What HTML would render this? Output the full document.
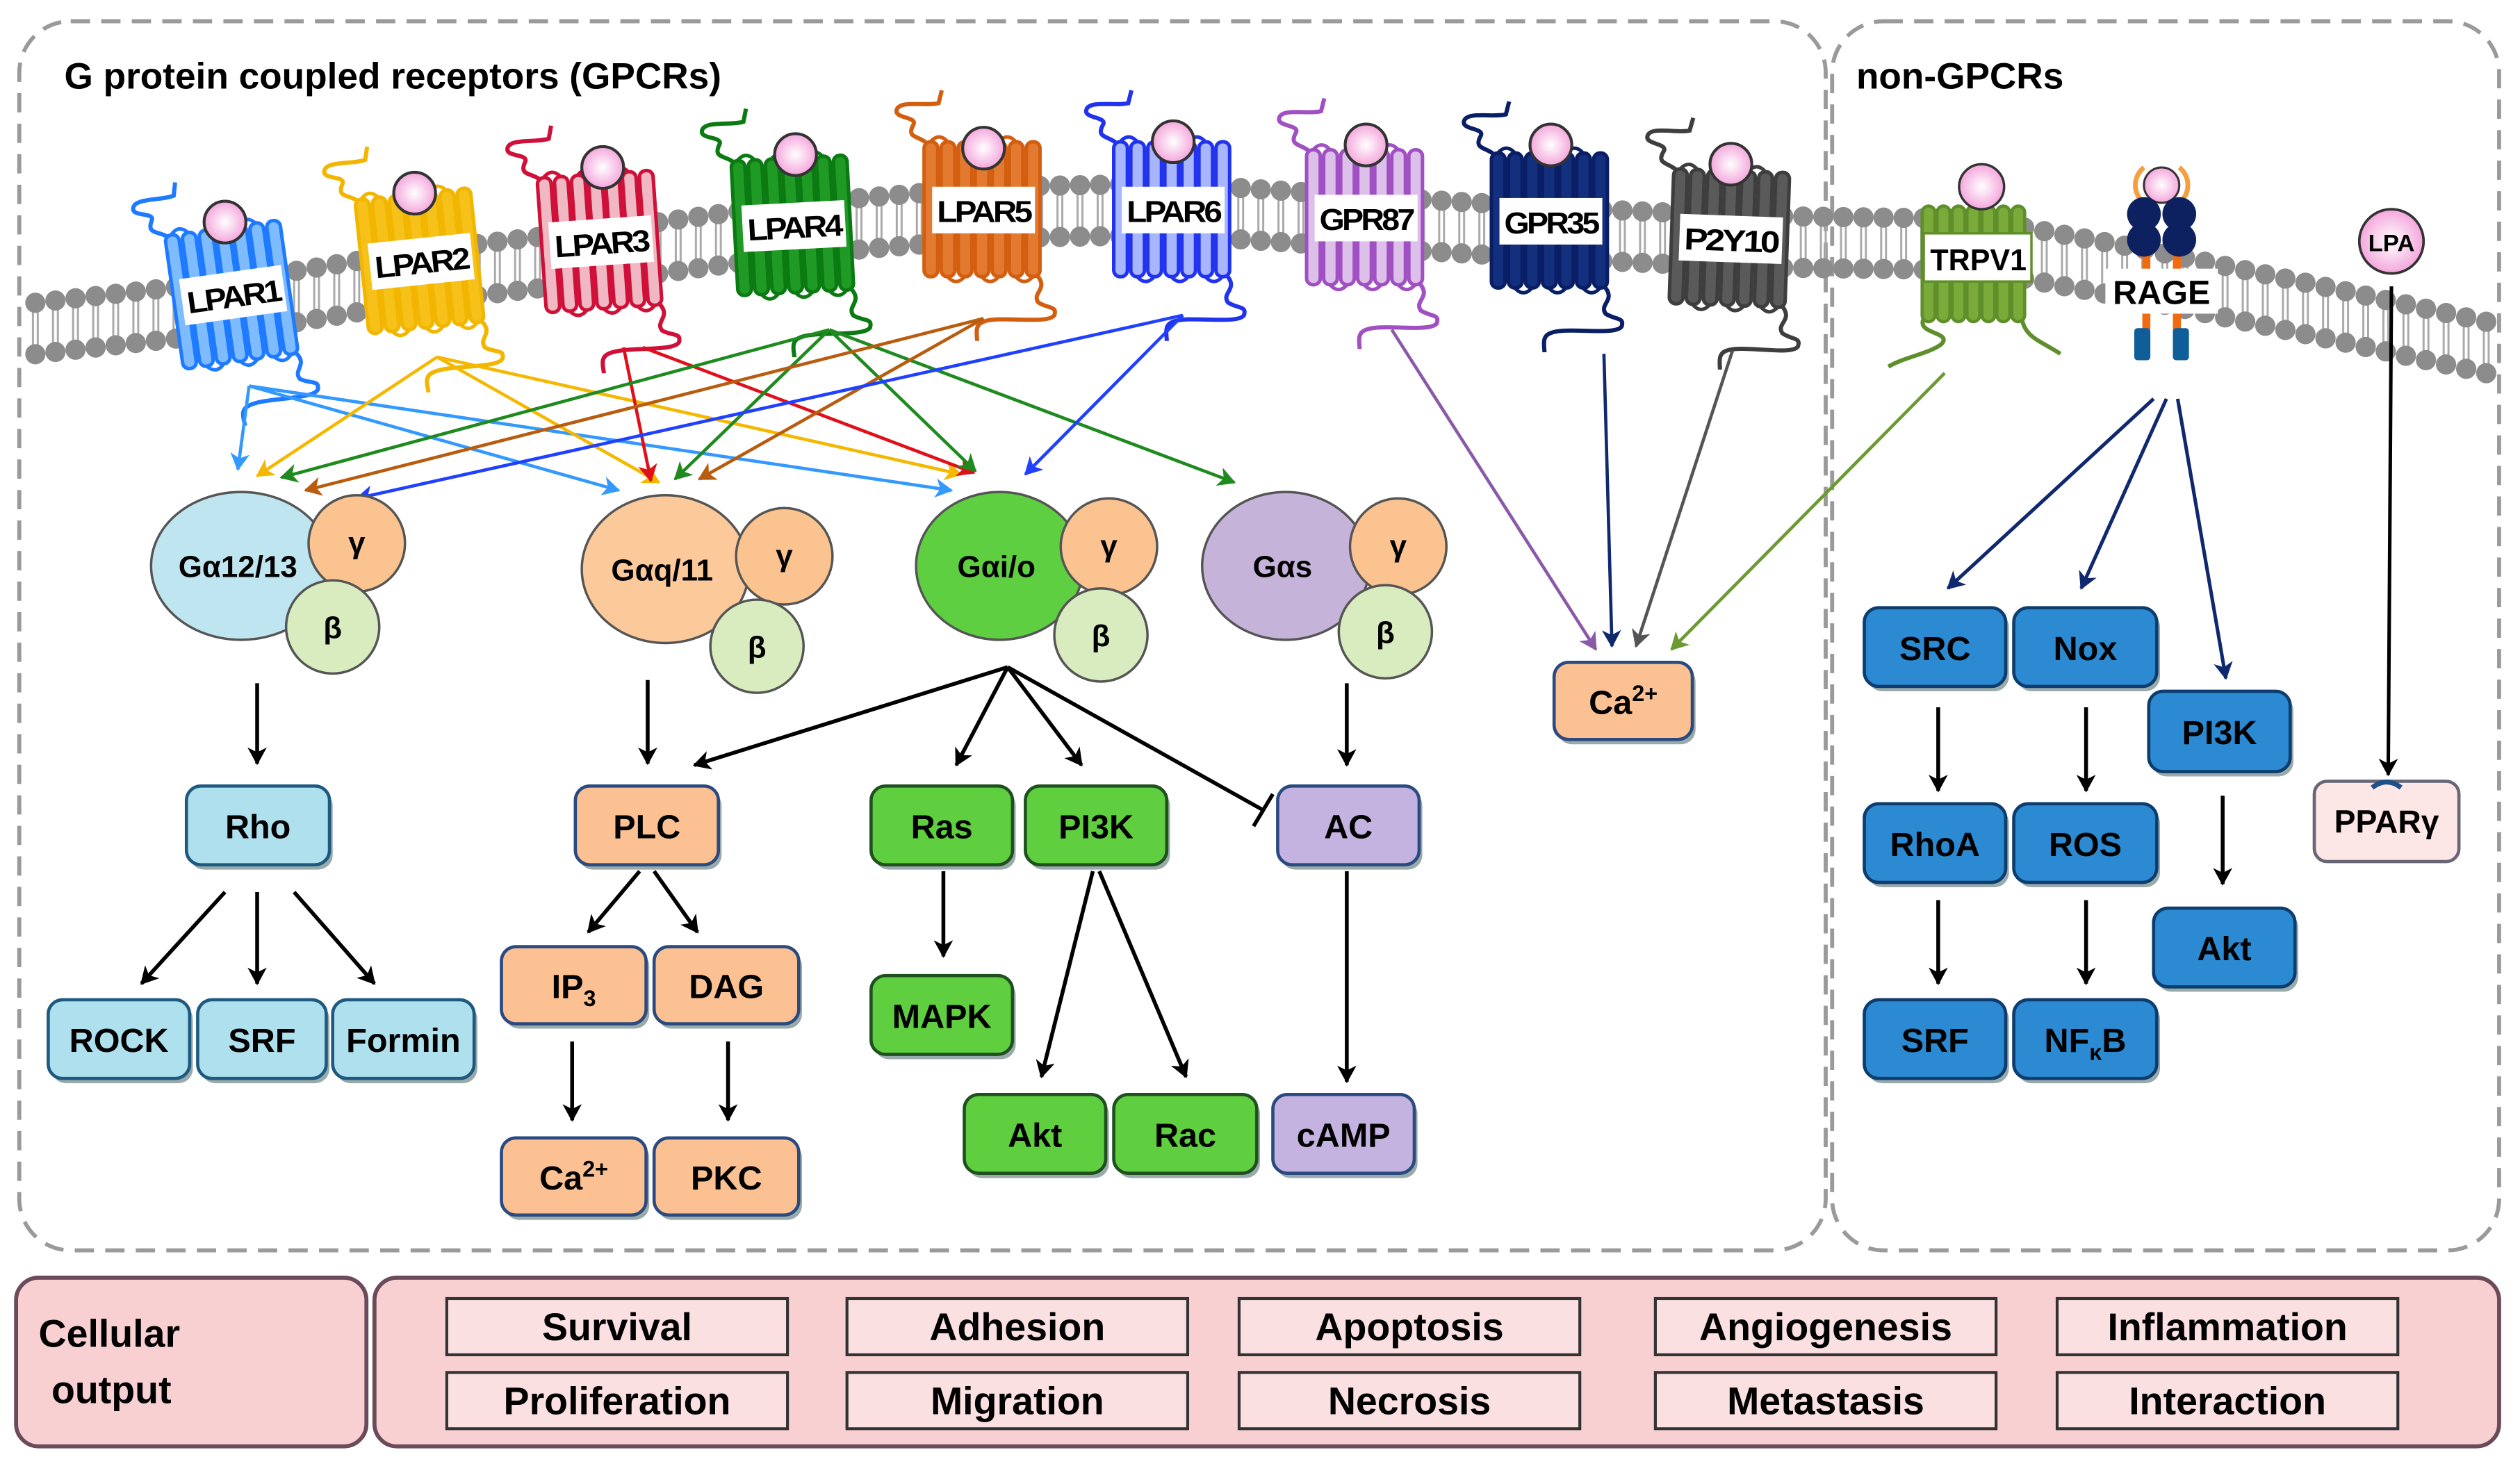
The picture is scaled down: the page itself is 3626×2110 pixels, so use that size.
<!DOCTYPE html>
<html><head><meta charset="utf-8"><style>
html,body{margin:0;padding:0;background:#fff;}
svg{display:block;}
text{font-family:"Liberation Sans",Arial,sans-serif;font-weight:bold;}
</style></head><body>
<svg id="s" width="3626" height="2110" viewBox="0 0 1568 912" xmlns="http://www.w3.org/2000/svg">
<defs>
<marker id="ak" markerWidth="8" markerHeight="8" refX="7" refY="4" orient="auto" markerUnits="userSpaceOnUse"><path d="M0,0 L8,4 L0,8 L2,4z" fill="#000"/></marker>
<radialGradient id="lig" cx="50%" cy="50%" r="50%"><stop offset="0" stop-color="#fff"/><stop offset="1" stop-color="#f4a6dc"/></radialGradient>
</defs>
<rect x="0" y="0" width="1568" height="912" fill="#fff"/>
<rect x="12" y="13" width="1124" height="765" rx="32" fill="none" stroke="#9a9a9a" stroke-width="2.5" stroke-dasharray="12,7"/>
<rect x="1140" y="13" width="415" height="765" rx="32" fill="none" stroke="#9a9a9a" stroke-width="2.5" stroke-dasharray="12,7"/>
<text x="40" y="55" font-size="23">G protein coupled receptors (GPCRs)</text>
<text x="1155" y="55" font-size="23">non-GPCRs</text>
<g id="mem"></g>
<g id="rec"></g>
<g id="arr"></g>
<g id="gp"></g>
<g id="box"></g>
<g id="bot">
<rect x="10" y="795" width="218" height="105" rx="14" fill="#f8d0d2" stroke="#6b4a5a" stroke-width="2.5"/>
<text x="24" y="838" font-size="24">Cellular</text>
<text x="32" y="873" font-size="24">output</text>
<rect x="233" y="795" width="1322" height="105" rx="14" fill="#f8d0d2" stroke="#6b4a5a" stroke-width="2.5"/>
</g>
</svg>
<script>
var NS="http://www.w3.org/2000/svg";
function el(p,t,a,txt){var e=document.createElementNS(NS,t);for(var k in a)e.setAttribute(k,a[k]);if(txt!==undefined)e.textContent=txt;document.getElementById(p).appendChild(e);return e;}
// membrane
var P=[[15,205],[150,190],[260,172],[380,158],[500,142],[620,132],[730,130],[850,138],[970,145],[1080,150],[1230,152],[1340,172],[1450,195],[1556,218]];
function my(x){for(var i=0;i<P.length-1;i++){if(x<=P[i+1][0]){var t=(x-P[i][0])/(P[i+1][0]-P[i][0]);return P[i][1]+t*(P[i+1][1]-P[i][1]);}}return P[P.length-1][1];}
for(var x=22;x<=1550;x+=12.5){var y=my(x);
 el("mem","line",{x1:x-1.5,y1:y-13,x2:x-1.5,y2:y+13,stroke:"#aaa","stroke-width":1.3});
 el("mem","line",{x1:x+1.5,y1:y-13,x2:x+1.5,y2:y+13,stroke:"#aaa","stroke-width":1.3});
 el("mem","circle",{cx:x,cy:y-16,r:6.3,fill:"#8c8c8c"});
 el("mem","circle",{cx:x,cy:y+16,r:6.3,fill:"#8c8c8c"});}
// GPCR receptors
function gpcr(cx,cy,col,light,lab,ang,lx,ly){
 var g=el("rec","g",{transform:"translate("+cx+","+cy+") rotate("+ang+")"});
 function a(t,at,tx){var e=document.createElementNS(NS,t);for(var k in at)e.setAttribute(k,at[k]);if(tx!==undefined)e.textContent=tx;g.appendChild(e);return e;}
 a("path",{d:"M-34,-40 C-40,-46 -48,-44 -44,-52 C-40,-58 -56,-56 -54,-62 C-52,-68 -36,-64 -28,-66 L-26,-74",fill:"none",stroke:col,"stroke-width":2.6});
 a("path",{d:"M34,42 C40,50 30,52 34,58 C40,62 46,60 44,66 C40,72 10,66 0,70 C-6,72 -4,78 -4,82",fill:"none",stroke:col,"stroke-width":2.6});
 for(var i=0;i<7;i++){var hx=-37+i*10.6;a("rect",{x:hx,y:-42,width:8.5,height:84,rx:4,fill:light,stroke:col,"stroke-width":2.2});}
 for(var i=0;i<6;i++){var hx=-37+i*10.6+4;var yy=(i%2==0)?-42:42;a("path",{d:"M"+hx+","+yy+" q5.3,"+(i%2==0?-6:6)+" 10.6,0",fill:"none",stroke:col,"stroke-width":2.2});}
 a("rect",{x:-32,y:-14,width:64,height:29,fill:"#fff"});
 a("text",{x:0,y:8,"font-size":19,"text-anchor":"middle","letter-spacing":"-1.5","font-weight":"normal",textLength:58,lengthAdjust:"spacingAndGlyphs",style:"font-weight:bold"},lab);
 el("rec","circle",{cx:lx,cy:ly,r:13,fill:"url(#lig)",stroke:"#333","stroke-width":1.8});
}
gpcr(145,183,"#1e7bff","#7fbcff","LPAR1",-8,140,138);
gpcr(262,162,"#f2b600","#f6c21a","LPAR2",-6,258,120);
gpcr(374,150,"#cf1038","#f0b8c2","LPAR3",-4,375,104);
gpcr(494,140,"#0b7a12","#1f9a24","LPAR4",-3,495,96);
gpcr(612,130,"#d45e10","#e27a30","LPAR5",0,612,92);
gpcr(730,130,"#2233ee","#a8b6ff","LPAR6",0,730,88);
gpcr(850,135,"#a050c2","#dcc0ea","GPR87",0,850,90);
gpcr(965,137,"#0a1e66","#13307e","GPR35",0,965,90);
gpcr(1077,148,"#3e3e3e","#5a5a5a","P2Y10",2,1077,102);
// TRPV1
(function(){var g="rec";
 el(g,"path",{d:"M1197,198 C1192,208 1215,206 1208,214 C1200,220 1185,222 1175,228",fill:"none",stroke:"#5f8f2a","stroke-width":2.6});
 el(g,"path",{d:"M1258,198 C1260,210 1270,212 1282,220",fill:"none",stroke:"#5f8f2a","stroke-width":2.6});
 for(var i=0;i<7;i++){el(g,"rect",{x:1196+i*9.3,y:128,width:8,height:72,rx:4,fill:"#7aaa3a",stroke:"#5f8f2a","stroke-width":2});}
 el(g,"rect",{x:1197,y:145,width:67,height:30,fill:"#fff",stroke:"#5f8f2a","stroke-width":1.5});
 el(g,"text",{x:1231,y:168,"font-size":19,"text-anchor":"middle",textLength:60,lengthAdjust:"spacingAndGlyphs"},"TRPV1");
 el(g,"circle",{cx:1233,cy:116,r:14,fill:"url(#lig)",stroke:"#333","stroke-width":1.5});
 // RAGE
 el(g,"path",{d:"M1334,104 a14,14 0 0 0 0,22",fill:"none",stroke:"#f5a040","stroke-width":3});
 el(g,"path",{d:"M1356,104 a14,14 0 0 1 0,22",fill:"none",stroke:"#f5a040","stroke-width":3});
 el(g,"circle",{cx:1345,cy:115,r:11,fill:"url(#lig)",stroke:"#333","stroke-width":1.3});
 el(g,"rect",{x:1333,y:155,width:5,height:50,fill:"#f06a10"});
 el(g,"rect",{x:1352,y:155,width:5,height:50,fill:"#f06a10"});
 el(g,"rect",{x:1328,y:204,width:10,height:20,rx:2,fill:"#0f5e9a"});
 el(g,"rect",{x:1352,y:204,width:10,height:20,rx:2,fill:"#0f5e9a"});
 [[1334,133],[1356,133],[1334,149],[1356,149]].forEach(function(c){el(g,"circle",{cx:c[0],cy:c[1],r:10.5,fill:"#0d2060"});});
 el(g,"rect",{x:1310,y:167,width:70,height:28,fill:"#fff"});
 el(g,"text",{x:1345,y:189,"font-size":21,"text-anchor":"middle"},"RAGE");
 el(g,"circle",{cx:1488,cy:150,r:20,fill:"url(#lig)",stroke:"#333","stroke-width":1.6});
 el(g,"text",{x:1488,y:156,"font-size":15,"text-anchor":"middle"},"LPA");
})();
// arrows
function ar(x1,y1,x2,y2,c,w){el("arr","line",{x1:x1,y1:y1,x2:x2,y2:y2,stroke:c,"stroke-width":w||2.4,"marker-end":"url(#m"+c.replace("#","")+")"});}
function mk(c){var d=document.querySelector("defs");var m=document.createElementNS(NS,"marker");var id="m"+c.replace("#","");m.setAttribute("id",id);m.setAttribute("markerWidth","12");m.setAttribute("markerHeight","12");m.setAttribute("refX","10");m.setAttribute("refY","6");m.setAttribute("orient","auto");m.setAttribute("markerUnits","userSpaceOnUse");var p=document.createElementNS(NS,"path");p.setAttribute("d","M0,0 L11,6 L0,12 L3,6z");p.setAttribute("fill",c);m.appendChild(p);d.appendChild(m);}
["#000","#3399ff","#f5b800","#e0101a","#1f8a1f","#b85c10","#2040ff","#8a5aa8","#10286e","#555555","#6a9a30"].forEach(mk);
var K="#000";
// LPAR colored
ar(155,240,148,292,"#3399ff",2);ar(155,240,385,305,"#3399ff",2);ar(155,240,592,305,"#3399ff",2);
ar(272,222,160,296,"#f5b800",2);ar(272,222,410,300,"#f5b800",2);ar(272,222,598,295,"#f5b800",2);
ar(388,216,405,299,"#e0101a",2);ar(400,216,606,294,"#e0101a",2);
ar(516,205,175,297,"#1f8a1f",2);ar(516,205,420,298,"#1f8a1f",2);ar(516,205,607,293,"#1f8a1f",2);ar(516,205,768,300,"#1f8a1f",2);
ar(612,198,190,305,"#b85c10",2);ar(612,198,435,298,"#b85c10",2);
ar(736,196,222,310,"#2040ff",2);ar(736,196,638,295,"#2040ff",2);
ar(866,205,993,404,"#8a5aa8",2);ar(998,220,1003,402,"#10286e",2);ar(1078,218,1018,402,"#555555",2);ar(1210,232,1040,404,"#6a9a30",2);
ar(1340,248,1212,366,"#10286e",2.2);ar(1348,248,1295,366,"#10286e",2.2);ar(1355,248,1385,422,"#10286e",2.2);
ar(1488,178,1486,482,K,2.2);
// black
ar(160,425,160,475,K);ar(140,555,88,612,K);ar(160,555,160,612,K);ar(183,555,233,612,K);
ar(403,423,403,475,K);ar(398,542,366,580,K);ar(407,542,434,580,K);ar(356,648,356,697,K);ar(453,648,453,697,K);
ar(627,415,432,476,K);ar(627,415,595,476,K);ar(627,415,673,476,K);
el("arr","line",{x1:627,y1:415,x2:786,y2:504,stroke:"#000","stroke-width":2.4});
el("arr","line",{x1:780,y1:514,x2:792,y2:494,stroke:"#000","stroke-width":2.4});
ar(587,542,587,595,K);ar(680,542,648,670,K);ar(684,542,738,670,K);
ar(838,425,838,476,K);ar(838,542,838,673,K);
ar(1206,440,1206,492,K);ar(1298,440,1298,492,K);ar(1383,495,1383,550,K);ar(1206,560,1206,612,K);ar(1298,560,1298,612,K);
// G proteins
function gprot(ax,ay,rx,ry,col,lab,gx,gy,bx,by){
 el("gp","ellipse",{cx:ax,cy:ay,rx:rx,ry:ry,fill:col,stroke:"#555","stroke-width":1.5});
 el("gp","circle",{cx:gx,cy:gy,r:30,fill:"#fbc38f",stroke:"#555","stroke-width":1.5});
 el("gp","circle",{cx:bx,cy:by,r:29,fill:"#d8ecc0",stroke:"#555","stroke-width":1.5});
 el("gp","text",{x:ax-2,y:ay+7,"font-size":19,"text-anchor":"middle"},lab);
 el("gp","text",{x:gx,y:gy+6,"font-size":19,"text-anchor":"middle"},"γ");
 el("gp","text",{x:bx,y:by+7,"font-size":19,"text-anchor":"middle"},"β");}
gprot(150,352,56,46,"#bfe6f0","Gα12/13",222,338,207,390);
gprot(414,354,52,46,"#fcc99b","Gαq/11",488,346,471,402);
gprot(622,352,52,46,"#5ecf40","Gαi/o",690,340,685,395);
gprot(800,352,52,46,"#c5b3da","Gαs",870,340,862,393);
// boxes
function bx(x,y,w,h,fill,st,lab,sub,sup){
 el("box","rect",{x:x+2,y:y+3,width:w,height:h,rx:9,fill:"#9aa"});
 el("box","rect",{x:x,y:y,width:w,height:h,rx:9,fill:fill,stroke:st,"stroke-width":2});
 var t=el("box","text",{x:x+w/2,y:y+h/2+8,"font-size":21,"text-anchor":"middle"});
 t.textContent=lab;
 if(sub){var s=document.createElementNS(NS,"tspan");s.setAttribute("font-size","14");s.setAttribute("dy","5");s.textContent=sub;t.appendChild(s);}
 if(sup){var s=document.createElementNS(NS,"tspan");s.setAttribute("font-size","14");s.setAttribute("dy","-8");s.textContent=sup;t.appendChild(s);}}
var LB="#aee0ee",LBs="#1e5a80",PE="#fcc193",PEs="#2a4a80",GR="#5fcf3f",GRs="#205020",PU="#c4b2e0",PUs="#2a4a80",BL="#2b8ad2",BLs="#0d3c6e";
bx(116,489,89,49,LB,LBs,"Rho");
bx(30,622,88,49,LB,LBs,"ROCK");bx(123,622,80,49,LB,LBs,"SRF");bx(207,622,88,49,LB,LBs,"Formin");
bx(358,489,89,49,PE,PEs,"PLC");
bx(312,589,90,48,PE,PEs,"IP","3");bx(407,589,90,48,PE,PEs,"DAG");
bx(312,708,90,48,PE,PEs,"Ca",null,"2+");bx(407,708,90,48,PE,PEs,"PKC");
bx(542,489,88,49,GR,GRs,"Ras");bx(638,489,88,49,GR,GRs,"PI3K");
bx(542,607,88,49,GR,GRs,"MAPK");
bx(600,681,88,49,GR,GRs,"Akt");bx(693,681,89,49,GR,GRs,"Rac");
bx(795,489,88,49,PU,PUs,"AC");bx(792,681,88,49,PU,PUs,"cAMP");
bx(967,412,86,48,PE,PEs,"Ca",null,"2+");
bx(1160,378,88,49,BL,BLs,"SRC");bx(1253,378,89,49,BL,BLs,"Nox");
bx(1337,430,88,50,BL,BLs,"PI3K");
bx(1160,500,88,49,BL,BLs,"RhoA");bx(1253,500,89,49,BL,BLs,"ROS");
bx(1340,565,88,49,BL,BLs,"Akt");
bx(1160,622,88,49,BL,BLs,"SRF");bx(1253,622,89,49,BL,BLs,"NF","κ");
(function(){var t=document.querySelectorAll("#box text");var last=t[t.length-1];var s=document.createElementNS(NS,"tspan");s.setAttribute("dy","-5");s.textContent="B";last.appendChild(s);})();
el("box","rect",{x:1440,y:486,width:90,height:50,rx:8,fill:"#fde6e6",stroke:"#667","stroke-width":2});
el("box","path",{d:"M1476,490 q9,-7 18,0",fill:"none",stroke:"#1d4f8a","stroke-width":3});
el("box","text",{x:1485,y:518,"font-size":20,"text-anchor":"middle"},"PPARγ");
// bottom
var cols=[278,527,771,1030,1280],r1=["Survival","Adhesion","Apoptosis","Angiogenesis","Inflammation"],r2=["Proliferation","Migration","Necrosis","Metastasis","Interaction"];
for(var i=0;i<5;i++){
 el("bot","rect",{x:cols[i],y:808,width:212,height:35,fill:"#fbe0e2",stroke:"#333","stroke-width":1.8});
 el("bot","rect",{x:cols[i],y:854,width:212,height:35,fill:"#fbe0e2",stroke:"#333","stroke-width":1.8});
 el("bot","text",{x:cols[i]+106,y:834,"font-size":24,"text-anchor":"middle"},r1[i]);
 el("bot","text",{x:cols[i]+106,y:880,"font-size":24,"text-anchor":"middle"},r2[i]);}
</script>
</body></html>
